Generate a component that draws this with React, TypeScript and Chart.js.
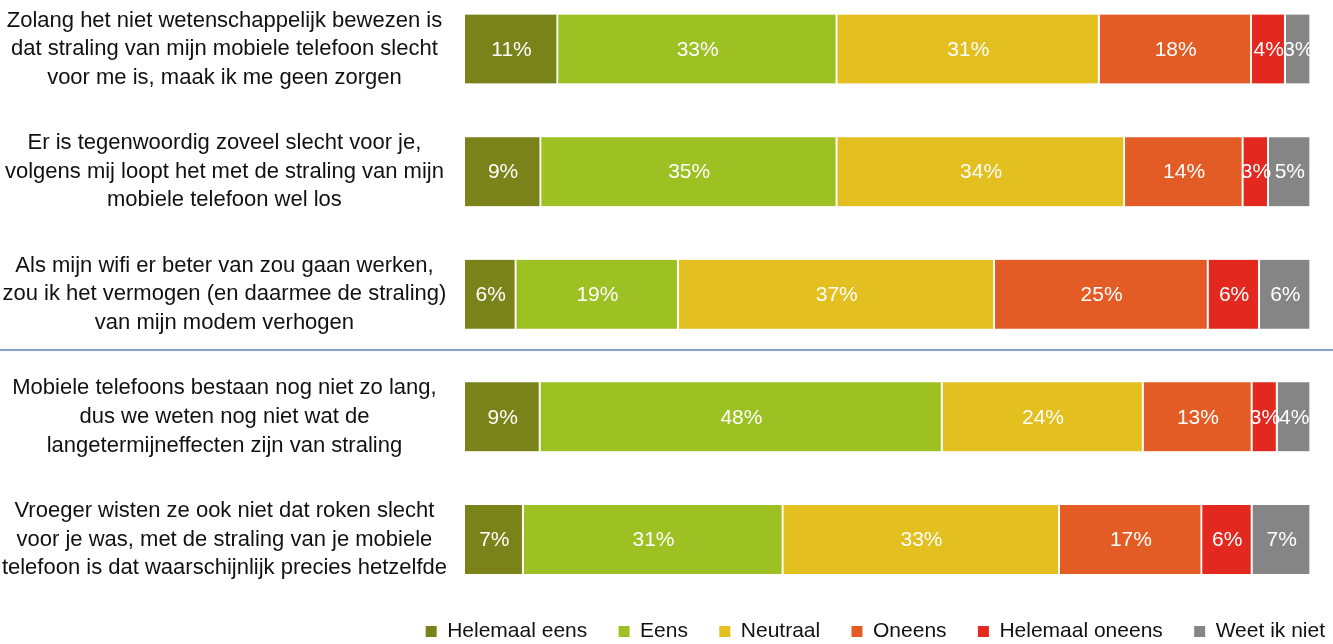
import React, { useEffect, useRef } from "react";
import { Chart, registerables } from "chart.js";

Chart.register(...registerables);

const FONT = "'Liberation Sans', Arial, sans-serif";

const STATEMENTS: string[][] = [
  ["Zolang het niet wetenschappelijk bewezen is", "dat straling van mijn mobiele telefoon slecht", "voor me is, maak ik me geen zorgen"],
  ["Er is tegenwoordig zoveel slecht voor je,", "volgens mij loopt het met de straling van mijn", "mobiele telefoon wel los"],
  ["Als mijn wifi er beter van zou gaan werken,", "zou ik het vermogen (en daarmee de straling)", "van mijn modem verhogen"],
  ["Mobiele telefoons bestaan nog niet zo lang,", "dus we weten nog niet wat de", "langetermijneffecten zijn van straling"],
  ["Vroeger wisten ze ook niet dat roken slecht", "voor je was, met de straling van je mobiele", "telefoon is dat waarschijnlijk precies hetzelfde"],
];

const ANSWERS = ["Helemaal eens", "Eens", "Neutraal", "Oneens", "Helemaal oneens", "Weet ik niet"];

const HELEMAAL_EENS = [11, 9, 6, 9, 7];
const EENS = [33, 35, 19, 48, 31];
const NEUTRAAL = [31, 34, 37, 24, 33];
const ONEENS = [18, 14, 25, 13, 17];
const HELEMAAL_ONEENS = [4, 3, 6, 3, 6];
const WEET_IK_NIET = [3, 5, 6, 4, 7];

const SERIES = [HELEMAAL_EENS, EENS, NEUTRAAL, ONEENS, HELEMAAL_ONEENS, WEET_IK_NIET];
const COLORS = ["#7a8319", "#9dc123", "#e3bf1f", "#e45c25", "#e3281f", "#858585"];

const SEPARATOR_AFTER = 2;

const rowTotals = STATEMENTS.map((_, i) => SERIES.reduce((s, arr) => s + arr[i], 0));

const valueLabels = {
  id: "valueLabels",
  afterDatasetsDraw(chart: any) {
    const ctx = chart.ctx;
    ctx.save();
    ctx.font = `21px ${FONT}`;
    ctx.fillStyle = "#ffffff";
    ctx.textAlign = "center";
    ctx.textBaseline = "middle";
    chart.data.datasets.forEach((_ds: any, di: number) => {
      const meta = chart.getDatasetMeta(di);
      meta.data.forEach((bar: any, i: number) => {
        const { x, y, base } = bar.getProps(["x", "y", "base"], true);
        ctx.fillText(SERIES[di][i] + "%", (x + base) / 2, y + 1);
      });
    });
    ctx.restore();
  },
};

const separator = {
  id: "separator",
  afterDraw(chart: any) {
    const ctx = chart.ctx;
    const y = chart.scales.y.getPixelForValue(SEPARATOR_AFTER + 0.455);
    ctx.save();
    ctx.strokeStyle = "#5f85ad";
    ctx.lineWidth = 1.5;
    ctx.beginPath();
    ctx.moveTo(0, y);
    ctx.lineTo(chart.width, y);
    ctx.stroke();
    ctx.restore();
  },
};

export default function App() {
  const ref = useRef<HTMLCanvasElement>(null);

  useEffect(() => {
    const canvas = ref.current!;
    const datasets = SERIES.map((arr, di) => ({
      label: ANSWERS[di],
      data: arr.map((v, i) => ({ x: (v / rowTotals[i]) * 100, y: i })),
      backgroundColor: COLORS[di],
      borderColor: "#ffffff",
      borderWidth: { left: 0, right: 2, top: 0, bottom: 0 },
      borderSkipped: false,
      barThickness: 69,
    }));

    const chart = new Chart(canvas, {
      type: "bar",
      data: { datasets } as any,
      options: {
        indexAxis: "y",
        animation: false,
        responsive: true,
        maintainAspectRatio: false,
        devicePixelRatio: 1,
        layout: { padding: 0 },
        scales: {
          x: {
            type: "linear",
            stacked: true,
            min: 0,
            max: 102.6,
            display: false,
          },
          y: {
            type: "linear",
            stacked: true,
            reverse: true,
            offset: false,
            min: -0.4,
            max: 4.6,
            grid: { display: false },
            border: { display: false },
            afterBuildTicks: (s: any) => {
              s.ticks = STATEMENTS.map((_, i) => ({ value: i }));
            },
            afterFit: (s: any) => {
              s.width = 465;
              s.paddingTop = 0;
              s.paddingBottom = 0;
            },
            ticks: {
              autoSkip: false,
              crossAlign: "center",
              padding: 10,
              color: "#111111",
              font: { family: FONT, size: 22, lineHeight: 1.3 },
              callback: (v: any) => STATEMENTS[v] ?? "",
            },
          } as any,
        },
        plugins: {
          tooltip: { enabled: false },
          legend: {
            position: "bottom",
            align: "end",
            labels: {
              boxWidth: 11,
              boxHeight: 11,
              padding: 8,
              color: "#111111",
              font: { family: FONT, size: 21 },
              generateLabels: (c: any) => {
                const items = Chart.defaults.plugins.legend.labels.generateLabels(c);
                return items.map((it: any, i: number) => ({
                  ...it,
                  lineWidth: 0,
                  text: i < items.length - 1 ? it.text + "    " : it.text,
                }));
              },
            },
          },
        },
      } as any,
      plugins: [valueLabels, separator],
    });
    return () => chart.destroy();
  }, []);

  return (
    <div style={{ position: "fixed", left: 0, top: 0, width: 1333, height: 644, overflow: "hidden", background: "#ffffff" }}>
      <div style={{ position: "relative", width: 1333, height: 652 }}>
        <canvas ref={ref} />
      </div>
    </div>
  );
}
